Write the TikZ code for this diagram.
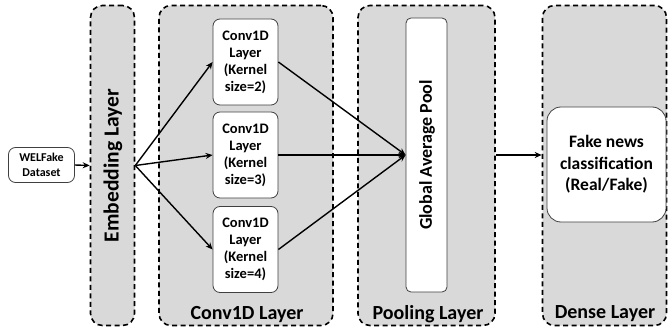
\documentclass[tikz,border=0pt]{standalone}
\usepackage{fontspec}
\setmainfont{Carlito}
\usetikzlibrary{arrows.meta}
\definecolor{layerfill}{HTML}{D9D9D9}
\definecolor{boxline}{HTML}{404040}
\tikzset{
  layerbox/.style={draw=black, fill=layerfill, line width=1.6pt, dash pattern=on 5pt off 3.5pt, rounded corners=12pt, inner sep=0pt},
  whitebox/.style={draw=boxline, fill=white, line width=0.8pt, rounded corners=7pt, inner sep=1pt, align=center, font=\bfseries},
  layerlbl/.style={font=\bfseries\fontsize{20}{22}\selectfont, inner sep=0pt},
  arr/.style={line width=1.4pt, -{Stealth[length=7pt,width=6pt]}}
}
\begin{document}
\begin{tikzpicture}[x=1pt,y=-1pt]
\useasboundingbox (0,0) rectangle (668,331);
% layers
\node[layerbox, minimum width=44pt, minimum height=320pt] (emb) at (112.5,165.5) {};
\node[layerlbl, rotate=90, font=\bfseries\fontsize{21.5}{24}\selectfont] (emblbl) at (113,165.5) {Embedding Layer};
\node[layerbox, minimum width=174pt, minimum height=320pt] (conv) at (246,165.5) {};
\node[layerlbl] (convlbl) at (247,315) {Conv1D Layer};
\node[layerbox, minimum width=137pt, minimum height=320pt] (pool) at (426.5,165.5) {};
\node[layerlbl] (poollbl) at (428,314) {Pooling Layer};
\node[layerbox, minimum width=124pt, minimum height=320pt] (dense) at (604.5,165.5) {};
\node[layerlbl] (denselbl) at (605,314) {Dense Layer};
% inner boxes
\node[whitebox, minimum width=66pt, minimum height=35pt, font=\bfseries\fontsize{12}{15}\selectfont] (wel) at (41.5,165) {WELFake\\Dataset};
\node[whitebox, minimum width=65pt, minimum height=86pt, font=\bfseries\fontsize{14.5}{17}\selectfont] (c1) at (245.5,62) {Conv1D\\Layer\\(Kernel\\size=2)};
\node[whitebox, minimum width=65pt, minimum height=86pt, font=\bfseries\fontsize{14.5}{17}\selectfont] (c2) at (245.5,155) {Conv1D\\Layer\\(Kernel\\size=3)};
\node[whitebox, minimum width=65pt, minimum height=86pt, font=\bfseries\fontsize{14.5}{17}\selectfont] (c3) at (245.5,249.5) {Conv1D\\Layer\\(Kernel\\size=4)};
\node[whitebox, minimum width=41pt, minimum height=274pt, rounded corners=5pt] (gap) at (426.5,155) {};
\node[font=\bfseries\fontsize{18}{20}\selectfont, rotate=90] (gaplbl) at (427,155) {Global Average Pool};
\node[whitebox, minimum width=119pt, minimum height=115pt, rounded corners=14pt, font=\bfseries\fontsize{17.5}{21.5}\selectfont] (fake) at (606.5,164.5) {Fake news\\classification\\(Real/Fake)};
% connectors
\coordinate (fan) at (emb.east);
\draw[arr] (wel.east) -- (emb.west);
\draw[arr] (fan) -- (c1.west);
\draw[arr] (fan) -- (c2.west);
\draw[arr] (fan) -- (c3.west);
\draw[arr] (c1.east) -- (gap.west);
\draw[arr] (c2.east) -- (gap.west);
\draw[arr] (c3.east) -- (gap.west);
\draw[arr] (pool.east |- gap.center) -- (dense.west |- gap.center);
\end{tikzpicture}
\end{document}
